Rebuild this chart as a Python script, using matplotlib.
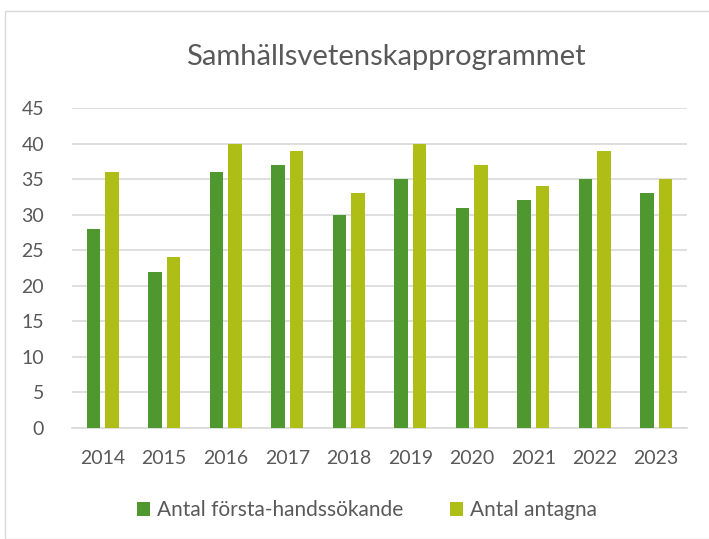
import matplotlib
matplotlib.use("Agg")
import matplotlib.pyplot as plt
from matplotlib.patches import Rectangle
import numpy as np

years = ["2014", "2015", "2016", "2017", "2018", "2019", "2020", "2021", "2022", "2023"]
forsta = [28, 22, 36, 37, 30, 35, 31, 32, 35, 33]
antagna = [36, 24, 40, 39, 33, 40, 37, 34, 39, 35]
yticks = [0, 5, 10, 15, 20, 25, 30, 35, 40, 45]
title = "Samhällsvetenskapprogrammet"
labels = ["Antal första-handssökande", "Antal antagna"]

c1 = "#4F982F"
c2 = "#AEBE16"
txt = "#595959"
grid = "#D9D9D9"

plt.rcParams['font.family'] = ['Lato', 'DejaVu Sans']

W, H = 709, 539
fig = plt.figure(figsize=(W / 100, H / 100), dpi=100)
fig.patches.append(Rectangle((5 / W, 0), 1.0, 1 - 11 / H, transform=fig.transFigure,
                             fill=False, edgecolor="#D9D9D9", linewidth=1.0))

ax = fig.add_axes([72 / W, 1 - 428 / H, (687 - 72) / W, (428 - 108) / H])
x = np.arange(len(years))
bw = 0.22
off = 0.15
ax.bar(x - off, forsta, bw, color=c1, label=labels[0], zorder=3)
ax.bar(x + off, antagna, bw, color=c2, label=labels[1], zorder=3)

ax.set_xlim(-0.5, len(years) - 0.5)
ax.set_ylim(0, 45)
ax.set_yticks(yticks)
ax.set_yticklabels([str(v) for v in yticks])
ax.set_xticks(x)
ax.set_xticklabels(years)
ax.tick_params(axis='both', length=0, labelsize=14, colors=txt)
ax.tick_params(axis='y', pad=20)
ax.tick_params(axis='x', pad=16)
ax.yaxis.grid(True, color=grid, linewidth=1.2, zorder=0)
for s in ["top", "right", "left"]:
    ax.spines[s].set_visible(False)
ax.spines["bottom"].set_color(grid)
ax.spines["bottom"].set_linewidth(1.2)

fig.text(386 / W, 1 - 57 / H, title, ha='center', va='center', fontsize=21, color=txt)

fig.legend(loc='center', bbox_to_anchor=(367 / W, 1 - 510 / H), ncol=2, frameon=False,
           fontsize=15, labelcolor=txt, handlelength=0.65, handleheight=0.65,
           handletextpad=0.35, columnspacing=2.2)

fig.savefig("out.png", dpi=100)
